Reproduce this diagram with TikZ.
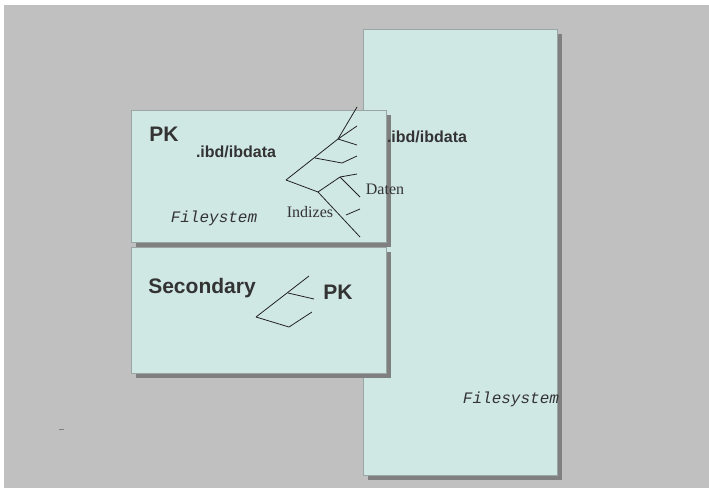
\documentclass[tikz,border=0pt]{standalone}
\usepackage{fontspec}
\setmainfont{Liberation Serif}
\setsansfont{Liberation Sans}
\setmonofont{Liberation Mono}
\definecolor{bggray}{HTML}{C0C0C0}
\definecolor{boxfill}{HTML}{D0E8E4}
\definecolor{boxline}{HTML}{9AA6A4}
\definecolor{shadowgray}{HTML}{808080}
\definecolor{textgray}{HTML}{333333}
\definecolor{treegray}{HTML}{222222}
\tikzset{
  headtext/.style = {inner sep = 0pt, text = textgray, font = \sffamily\bfseries\fontsize{21}{25}\selectfont},
  filetext/.style = {inner sep = 0pt, text = textgray, font = \sffamily\bfseries\fontsize{16}{19}\selectfont},
  monotext/.style = {inner sep = 0pt, text = textgray, font = \ttfamily\itshape\fontsize{16}{19}\selectfont},
  serifword/.style = {inner sep = 0pt, text = textgray, font = \fontsize{16}{19}\selectfont},
  twig/.style = {draw = treegray, line width = 0.8pt}
}
\begin{document}
\begin{tikzpicture}[x = 1pt, y = -1pt]
\useasboundingbox (0,0) rectangle (709,488);
\fill[white] (0,0) rectangle (709,488);
\fill[bggray] (4,5) rectangle (709,488);
\pgfmathsetmacro\shift{5};
% boxes with shadows: Filesystem, PK, Secondary
\foreach \xa/\ya/\xb/\yb in {363/29/557/475, 131/110/386/242, 131/247/386/373} {
  \fill[shadowgray] (\xa+\shift,\ya+\shift) rectangle (\xb+\shift,\yb+\shift);
  \draw[fill = boxfill, draw = boxline, line width = 0.8pt] (\xa,\ya) rectangle (\xb,\yb);
}
\node[headtext] (pkTop) at (164,134) {PK};
\node[filetext] (ibdLeft) at (236,152) {.ibd/ibdata};
\node[filetext] (ibdRight) at (427,137) {.ibd/ibdata};
\node[monotext] (fsLeft) at (214,218) {Fileystem};
\node[serifword] (indizes) at (310,212) {Indizes};
\node[serifword] (daten) at (385,189) {Daten};
\node[headtext] (secondary) at (202,288) {Secondary};
\node[headtext] (pkSec) at (338,292) {PK};
\node[monotext] (fsRight) at (511,399) {Filesystem};
% tree in the PK box
\draw[twig] (286,180) -- (338,139) -- (357,107);
\draw[twig] (338,139) -- (357,126);
\draw[twig] (338,139) -- (357,145);
\draw[twig] (315,158) -- (342,163) -- (357,156);
\draw[twig] (286,180) -- (318,192) -- (340,177) -- (357,174);
\draw[twig] (340,177) -- (360,197);
\draw[twig] (318,192) -- (360,237);
\draw[twig] (346,215) -- (360,209);
% tree in the Secondary box
\draw[twig] (256,317) -- (309,276);
\draw[twig] (288,293) -- (314,299);
\draw[twig] (256,317) -- (289,327) -- (312,312);
\draw[draw = gray, line width = 0.6pt] (59,429) -- (64,429);
\end{tikzpicture}
\end{document}
